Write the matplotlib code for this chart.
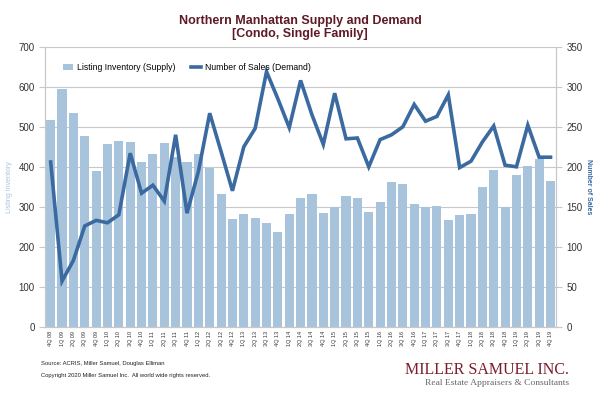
import matplotlib.pyplot as plt
import numpy as np

quarters = ["4Q 08",
            "1Q 09", "2Q 09", "3Q 09", "4Q 09",
            "1Q 10", "2Q 10", "3Q 10", "4Q 10",
            "1Q 11", "2Q 11", "3Q 11", "4Q 11",
            "1Q 12", "2Q 12", "3Q 12", "4Q 12",
            "1Q 13", "2Q 13", "3Q 13", "4Q 13",
            "1Q 14", "2Q 14", "3Q 14", "4Q 14",
            "1Q 15", "2Q 15", "3Q 15", "4Q 15",
            "1Q 16", "2Q 16", "3Q 16", "4Q 16",
            "1Q 17", "2Q 17", "3Q 17", "4Q 17",
            "1Q 18", "2Q 18", "3Q 18", "4Q 18",
            "1Q 19", "2Q 19", "3Q 19", "4Q 19"]

inventory = [518,
             595, 535, 477, 390,
             457, 465, 463, 412,
             432, 459, 425, 412,
             431, 398, 333, 270,
             283, 272, 259, 237,
             283, 322, 332, 284,
             300, 327, 322, 287,
             313, 362, 357, 307,
             300, 303, 268, 279,
             282, 349, 393, 300,
             380, 401, 420, 365]

sales = [206,
         57, 83, 126, 133,
         130, 140, 217, 167,
         177, 157, 240, 142,
         194, 267, 219, 170,
         225, 248, 319, 285,
         249, 308, 265, 228,
         292, 235, 236, 200,
         234, 240, 250, 278,
         257, 263, 290, 199,
         207, 231, 251, 202,
         200, 252, 212, 212]

plt.rcParams['font.family'] = ['Liberation Sans', 'DejaVu Sans']

bar_color = "#a8c4dc"
line_color = "#3a6aa0"
grid_color = "#c8c8c8"

fig = plt.figure(figsize=(6, 3.97), dpi=100)
ax = fig.add_axes([0.075, 0.177, 0.852, 0.705])
ax2 = ax.twinx()

x = np.arange(len(quarters))
ax.bar(x, inventory, width=0.8, color=bar_color, label="Listing Inventory (Supply)", zorder=2)
ax2.plot(x, sales, color=line_color, linewidth=2.6, label="Number of Sales (Demand)",
         solid_joinstyle="miter", zorder=3)

ax.set_xlim(-0.5, len(quarters) - 0.5)
ax.set_ylim(0, 700)
ax2.set_ylim(0, 350)
ax.set_yticks(range(0, 701, 100))
ax2.set_yticks(range(0, 351, 50))
ax.yaxis.grid(True, color=grid_color, linewidth=0.8, zorder=0)
ax.set_axisbelow(True)

ax.set_xticks(x)
ax.set_xticklabels(quarters, rotation=90, fontsize=4, color="#333333")
ax.tick_params(axis="x", length=0, pad=3)
ax.tick_params(axis="y", length=4, color=grid_color, labelsize=7, colors="#333333")
ax2.tick_params(axis="y", length=4, color=grid_color, labelsize=7, colors="#333333")
for a in (ax, ax2):
    for s in a.spines.values():
        s.set_color(grid_color)
        s.set_linewidth(0.8)
    a.spines["top"].set_visible(False)

ax.set_ylabel("Listing Inventory", fontsize=5, color="#a8c4dc", labelpad=4)
ax2.set_ylabel("Number of Sales", fontsize=5, color=line_color, rotation=-90, labelpad=7,
               fontweight="bold")

h1, l1 = ax.get_legend_handles_labels()
h2, l2 = ax2.get_legend_handles_labels()
ax2.legend(h1 + h2, l1 + l2, loc="upper left", bbox_to_anchor=(0.02, 0.97), ncol=2,
           frameon=False, fontsize=6.2, handlelength=1.2, handleheight=0.6,
           columnspacing=1.8, handletextpad=0.4)

fig.text(0.5, 0.948, "Northern Manhattan Supply and Demand", ha="center", va="center",
         fontsize=9, fontweight="bold", color="#5e1a26")
fig.text(0.5, 0.915, "[Condo, Single Family]", ha="center", va="center",
         fontsize=9, fontweight="bold", color="#5e1a26")

fig.text(0.068, 0.085, "Source: ACRIS, Miller Samuel, Douglas Elliman", fontsize=4.2,
         color="#222222", va="center")
fig.text(0.068, 0.055, "Copyright 2020 Miller Samuel Inc.  All world wide rights reserved.",
         fontsize=4.2, color="#222222", va="center")

fig.text(0.948, 0.068, "MILLER SAMUEL INC.", ha="right", va="center",
         fontsize=11.5, color="#7a1f2b", family="Liberation Serif")
fig.text(0.948, 0.035, "Real Estate Appraisers & Consultants", ha="right", va="center",
         fontsize=6.8, color="#666666", family="Liberation Serif")

plt.savefig("out.png", dpi=100)
